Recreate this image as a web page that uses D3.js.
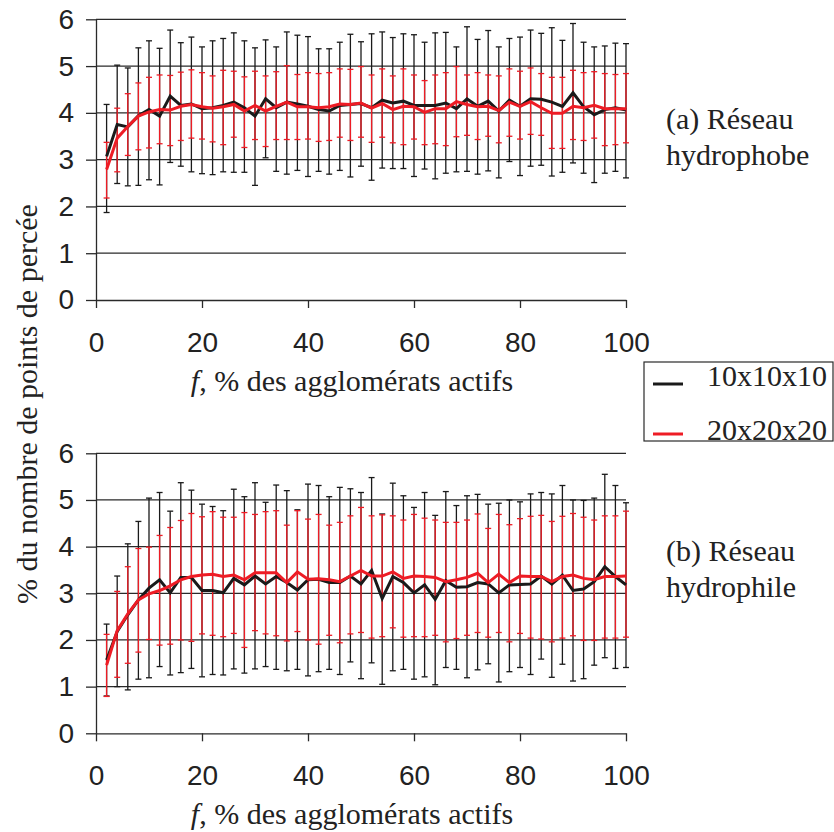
<!DOCTYPE html>
<html><head><meta charset="utf-8">
<title>Points de percée</title>
<script src="https://cdn.jsdelivr.net/npm/d3@7"></script>
</head><body style="margin:0;background:#fff">
<div id="chart"></div>
<script>
// ---------- data ----------
const fValues = [2,4,6,8,10,12,14,16,18,20,22,24,26,28,30,32,34,36,38,40,42,44,46,48,50,52,54,56,58,60,62,64,66,68,70,72,74,76,78,80,82,84,86,88,90,92,94,96,98,100];
const xTicks = [0,20,40,60,80,100];
const yTicks = [0,1,2,3,4,5,6];
const seriesNames = ["10x10x10","20x20x20"];
const seriesColors = ["#1a1a1a","#ee1c25"];

// (a) Réseau hydrophobe
const blackA = [3.07,3.75,3.7,3.94,4.07,3.93,4.36,4.16,4.19,4.09,4.11,4.16,4.23,4.11,3.93,4.3,4.11,4.23,4.19,4.14,4.07,4.04,4.16,4.18,4.2,
                4.11,4.27,4.21,4.25,4.16,4.16,4.16,4.21,4.09,4.3,4.14,4.25,4.04,4.27,4.14,4.3,4.29,4.23,4.14,4.43,4.13,3.96,4.07,4.11,4.06];
const blackAHi = [4.18,5.02,4.96,5.39,5.54,5.38,5.77,5.5,5.62,5.41,5.54,5.59,5.71,5.54,5.39,5.56,5.41,5.73,5.66,5.63,5.37,5.37,5.51,5.68,5.52,
                  5.69,5.73,5.61,5.69,5.67,5.51,5.71,5.72,5.41,5.84,5.57,5.76,5.41,5.59,5.62,5.77,5.7,5.82,5.55,5.91,5.51,5.41,5.43,5.49,5.48];
const blackALo = [1.87,2.49,2.44,2.45,2.57,2.46,2.94,2.86,2.74,2.7,2.68,2.74,2.73,2.73,2.45,3.04,2.75,2.69,2.77,2.64,2.75,2.69,2.77,2.63,2.86,
                  2.56,2.82,2.81,2.81,2.64,2.8,2.59,2.71,2.74,2.75,2.69,2.76,2.61,2.96,2.66,2.86,2.88,2.65,2.73,2.93,2.71,2.51,2.71,2.75,2.61];
const redA = [2.79,3.46,3.71,3.93,4.02,4.07,4.06,4.14,4.18,4.13,4.1,4.13,4.18,4.04,4.16,4.04,4.14,4.23,4.13,4.13,4.11,4.13,4.19,4.18,4.21,
              4.1,4.2,4.07,4.14,4.13,4.01,4.09,4.09,4.24,4.18,4.13,4.14,4.05,4.23,4.14,4.24,4.11,3.99,3.99,4.14,4.11,4.16,4.09,4.09,4.09];
const redAHi = [3.37,4.1,4.41,4.64,4.76,4.81,4.8,4.87,4.92,4.86,4.79,4.91,4.89,4.77,4.89,4.79,4.88,5.01,4.82,4.86,4.84,4.86,4.94,4.93,4.99,
                4.81,4.94,4.79,4.94,4.81,4.69,4.81,4.86,4.99,4.81,4.86,4.81,4.79,4.94,4.89,4.96,4.84,4.76,4.76,4.91,4.86,4.88,4.84,4.82,4.84];
const redALo = [2.18,2.74,3.09,3.21,3.25,3.34,3.3,3.41,3.46,3.44,3.38,3.32,3.48,3.26,3.43,3.28,3.43,3.43,3.43,3.44,3.39,3.41,3.48,3.41,3.48,
                3.37,3.48,3.36,3.32,3.44,3.32,3.34,3.3,3.49,3.52,3.43,3.5,3.36,3.5,3.44,3.54,3.52,3.24,3.24,3.43,3.41,3.46,3.3,3.32,3.36];

// (b) Réseau hydrophile
const blackB = [1.57,2.18,2.54,2.86,3.11,3.29,3.01,3.34,3.34,3.06,3.06,3.01,3.32,3.18,3.37,3.2,3.36,3.23,3.07,3.29,3.3,3.23,3.23,3.37,3.2,
                3.49,2.89,3.36,3.23,3.01,3.18,2.87,3.27,3.13,3.14,3.23,3.2,3.01,3.18,3.19,3.2,3.37,3.2,3.39,3.06,3.09,3.25,3.57,3.36,3.18];
const blackBHi = [2.34,3.37,4.06,4.54,5.04,5.16,4.76,5.37,5.21,4.91,4.86,4.77,5.23,5.07,5.37,4.95,5.32,5.2,4.79,5.34,5.31,5.07,5.27,5.24,5.16,
                  5.48,4.7,5.36,5.09,4.84,5.16,4.67,5.18,4.88,5.09,5.12,4.91,4.93,5.0,4.96,5.13,5.16,5.13,5.31,5.0,4.99,5.04,5.55,5.31,4.94];
const blackBLo = [0.8,1.0,0.93,1.16,1.19,1.43,1.25,1.3,1.39,1.21,1.26,1.25,1.38,1.29,1.38,1.43,1.37,1.34,1.37,1.23,1.32,1.37,1.26,1.53,1.17,
                  1.51,1.05,1.34,1.37,1.16,1.21,1.04,1.41,1.37,1.19,1.36,1.49,1.1,1.32,1.41,1.26,1.59,1.2,1.48,1.12,1.17,1.46,1.62,1.39,1.41];
const redB = [1.46,2.2,2.56,2.86,2.99,3.06,3.16,3.29,3.36,3.39,3.41,3.36,3.39,3.29,3.44,3.44,3.44,3.23,3.46,3.3,3.31,3.29,3.25,3.37,3.49,
              3.37,3.37,3.46,3.32,3.37,3.36,3.34,3.25,3.29,3.34,3.43,3.23,3.41,3.23,3.37,3.36,3.36,3.25,3.36,3.39,3.32,3.29,3.36,3.36,3.37];
const redBHi = [2.12,3.04,3.57,3.96,3.99,4.24,4.41,4.56,4.71,4.64,4.75,4.63,4.63,4.73,4.69,4.75,4.77,4.46,4.77,4.59,4.69,4.46,4.52,4.66,4.84,
                4.66,4.68,4.66,4.57,4.69,4.61,4.57,4.52,4.52,4.57,4.7,4.39,4.69,4.47,4.6,4.65,4.67,4.54,4.65,4.71,4.63,4.57,4.66,4.66,4.76];
const redBLo = [0.79,1.2,1.5,1.74,2.01,1.89,1.91,2.0,1.97,2.13,2.1,2.07,2.14,1.84,2.2,2.13,2.09,1.98,2.18,2.0,1.91,2.1,1.94,2.13,2.16,
                2.04,2.07,2.26,2.06,2.07,2.07,2.1,1.96,2.03,2.1,2.16,2.06,2.16,1.96,2.14,2.04,2.02,1.96,2.04,2.09,1.99,1.99,2.04,2.04,2.06];

const xTitleItalic = "f";
const xTitleRest = ", % des agglomérats actifs";
const yTitle = "% du nombre de points de percée";
const panelLabels = [["(a) Réseau","hydrophobe"],["(b) Réseau","hydrophile"]];

// ---------- drawing ----------
const svg = d3.select("#chart").append("svg").attr("width",834).attr("height",832)
  .style("display","block").style("font-family","Liberation Serif");
const x = d3.scaleLinear().domain([0,100]).range([96,626]);
const INK = "#222";

function serifText(sel){ return sel.style("font-family","Liberation Serif").style("font-size","30px").attr("fill",INK); }

const panels = [
  {top:19.3, bottom:300, series:[[blackA,blackALo,blackAHi],[redA,redALo,redAHi]], label:panelLabels[0], labelY:129},
  {top:453.3, bottom:733.3, series:[[blackB,blackBLo,blackBHi],[redB,redBLo,redBHi]], label:panelLabels[1], labelY:561}
];

panels.forEach(p => {
  const y = d3.scaleLinear().domain([0,6]).range([p.bottom,p.top]);
  const g = svg.append("g");
  g.selectAll("line.grid").data(yTicks.filter(t=>t>0)).join("line")
    .attr("x1",x(0)).attr("x2",x(100)).attr("y1",d=>y(d)).attr("y2",d=>y(d))
    .attr("stroke","#2a2a2a").attr("stroke-width",1.3);
  const ya = g.append("g").attr("transform",`translate(${x(0)},0)`)
    .call(d3.axisLeft(y).tickValues(yTicks).tickSize(10).tickSizeOuter(0).tickPadding(12).tickFormat(d3.format("d")));
  const xa = g.append("g").attr("transform",`translate(0,${y(0)})`)
    .call(d3.axisBottom(x).tickValues(xTicks).tickSize(8).tickSizeOuter(0).tickPadding(24).tickFormat(d3.format("d")));
  [ya,xa].forEach(a=>{
    a.select(".domain").attr("stroke","#2a2a2a").attr("stroke-width",1.3);
    a.selectAll(".tick line").attr("stroke","#2a2a2a").attr("stroke-width",1.3);
    a.selectAll(".tick text").style("font-family","Liberation Sans").style("font-size","28px").attr("fill",INK);
  });
  // error bars (black first, red on top)
  p.series.forEach((s,si) => {
    const [m,lo,hi] = s;
    const eb = g.append("g").attr("stroke",seriesColors[si]).attr("stroke-width",1.3);
    const rows = fValues.map((f,i)=>({f, lo:lo[i], hi:hi[i]}));
    eb.selectAll("line.v").data(rows).join("line").attr("x1",d=>x(d.f)).attr("x2",d=>x(d.f)).attr("y1",d=>y(d.lo)).attr("y2",d=>y(d.hi));
    eb.selectAll("line.lo").data(rows).join("line").attr("x1",d=>x(d.f)-3).attr("x2",d=>x(d.f)+3).attr("y1",d=>y(d.lo)).attr("y2",d=>y(d.lo));
    eb.selectAll("line.hi").data(rows).join("line").attr("x1",d=>x(d.f)-3).attr("x2",d=>x(d.f)+3).attr("y1",d=>y(d.hi)).attr("y2",d=>y(d.hi));
  });
  p.series.forEach((s,si) => {
    const line = d3.line().x((d,i)=>x(fValues[i])).y(d=>y(d));
    g.append("path").attr("d",line(s[0])).attr("fill","none")
      .attr("stroke",seriesColors[si]).attr("stroke-width",3);
  });
  const t = serifText(g.append("text")).attr("x",352).attr("y",y(0)+91).attr("text-anchor","middle");
  t.append("tspan").style("font-style","italic").text(xTitleItalic);
  t.append("tspan").text(xTitleRest);
  serifText(g.append("text")).attr("x",666).attr("y",p.labelY).text(p.label[0]);
  serifText(g.append("text")).attr("x",666).attr("y",p.labelY+36).text(p.label[1]);
});

serifText(svg.append("text")).attr("transform","translate(37,404) rotate(-90)").attr("text-anchor","middle").text(yTitle);

const lg = svg.append("g");
lg.append("rect").attr("x",644).attr("y",362).attr("width",189).attr("height",79)
  .attr("fill","#fff").attr("stroke","#2a2a2a").attr("stroke-width",1.2);
seriesNames.forEach((n,i)=>{
  const yy = [384,434][i];
  lg.append("line").attr("x1",653).attr("x2",683).attr("y1",yy).attr("y2",yy).attr("stroke",seriesColors[i]).attr("stroke-width",3);
  serifText(lg.append("text")).attr("x",707).attr("y",[386,440][i]).text(n);
});
</script>
</body></html>
